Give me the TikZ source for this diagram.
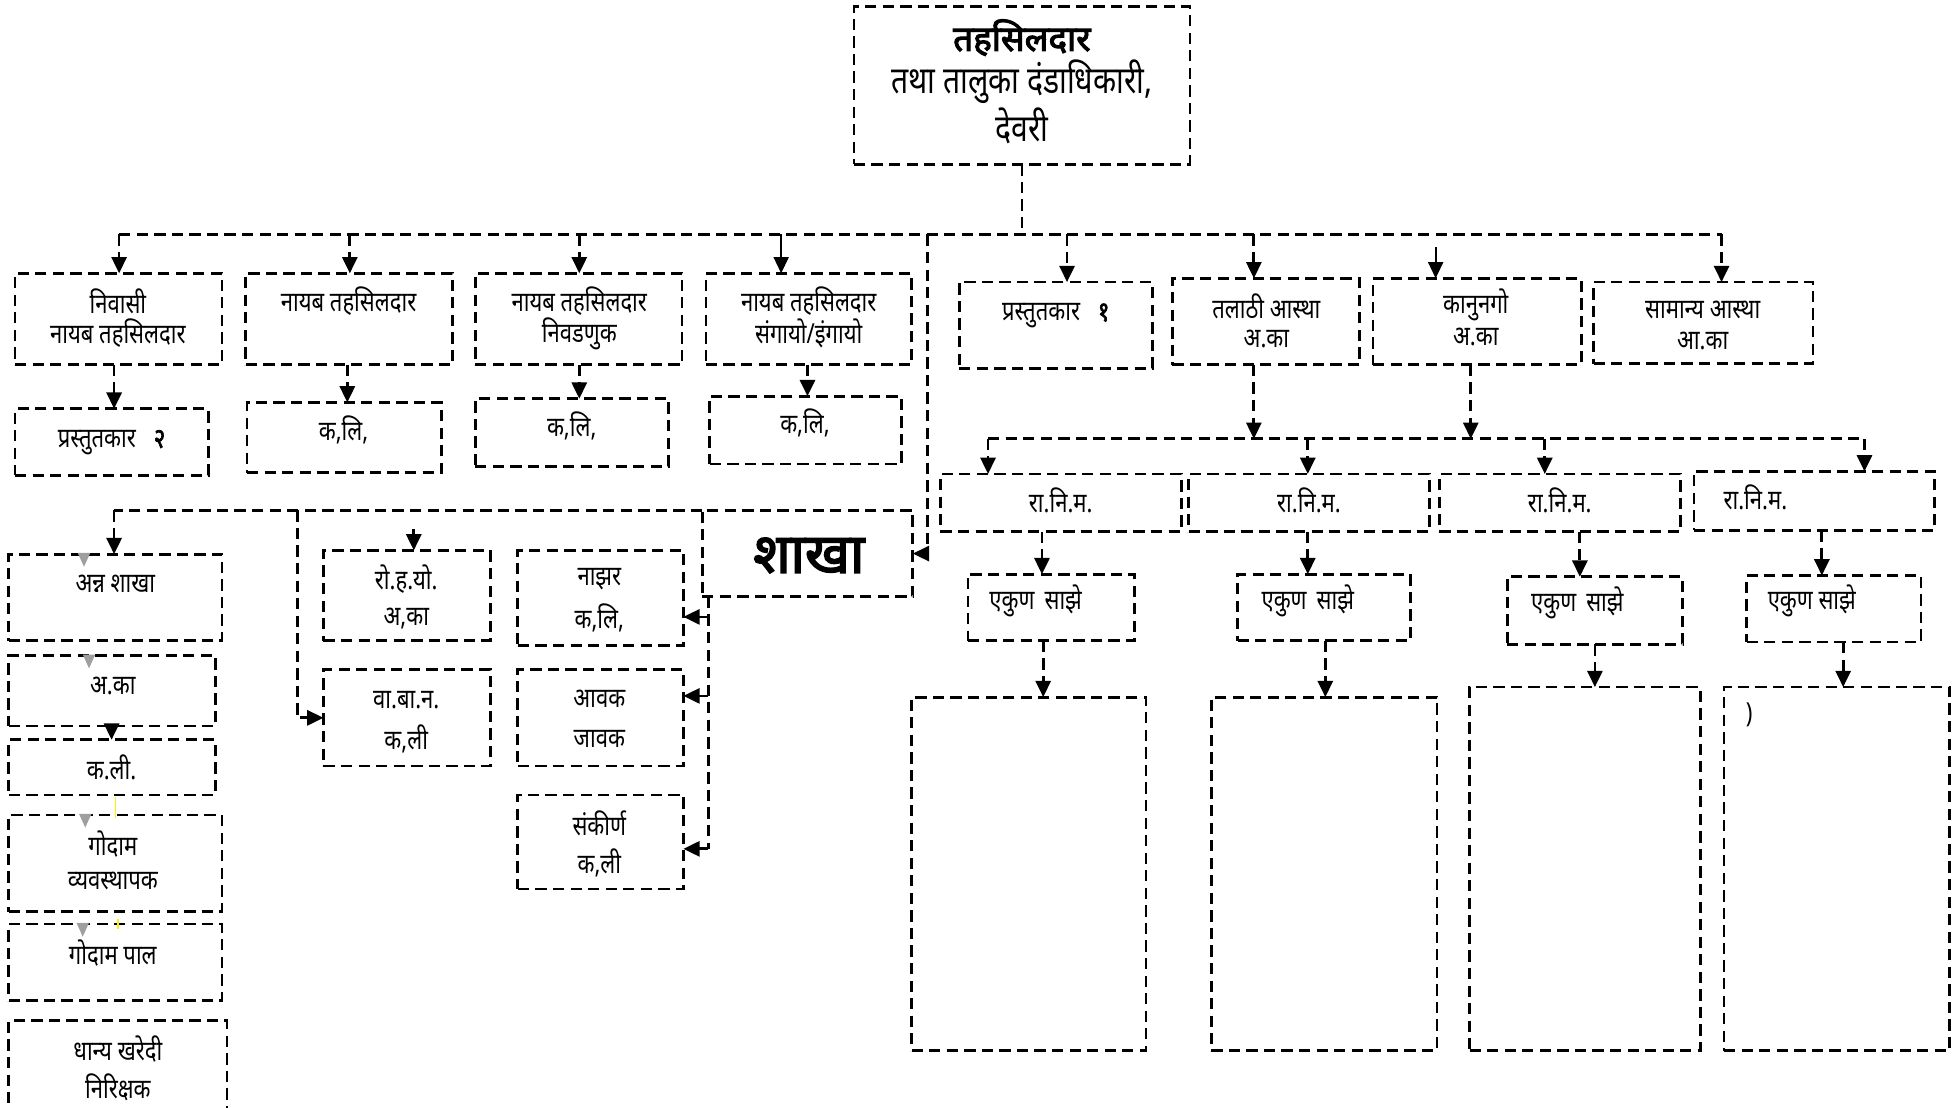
\documentclass[tikz,border=0pt]{standalone}
\usepackage{fontspec}
\setmainfont{Noto Sans}[Script=Devanagari,FakeStretch=0.8,BoldFont={Noto Sans},BoldFeatures={FakeBold=2.5}]
\newfontfamily\devw{Noto Sans}[Script=Devanagari,BoldFont={Noto Sans},BoldFeatures={FakeBold=3}]
\usetikzlibrary{arrows.meta}
\newcommand\bx[5]{\node[box,minimum width=#4pt-#2pt,minimum height=#5pt-#3pt] (#1) at ({(#2+#4)/2},{(#3+#5)/2}) {};}
\begin{document}
\begin{tikzpicture}[x=1pt,y=-1pt,
  dline/.style={line width=2.2pt,dash pattern=on 9pt off 5pt},
  box/.style={draw,dline,inner sep=0pt,outer sep=0pt},
  arr/.style={dline,-{Triangle[width=12pt,length=13pt]}},
  sarr/.style={line width=1.6pt,-{Triangle[width=12pt,length=13pt]}},
  txt/.style={font=\fontsize{22}{26}\selectfont,inner sep=0pt},
  big/.style={font=\fontsize{30}{34}\selectfont,inner sep=0pt},
  gtri/.style={fill=gray!75},
  ytick/.style={draw=yellow,line width=1.2pt}]
\useasboundingbox (0,0) rectangle (1560,883);
% ---------- boxes ----------
\bx{top}{681}{5}{949}{131}
\bx{b1}{12}{218}{177}{291}
\bx{b2}{196}{218}{361}{291}
\bx{b3}{379}{218}{544}{291}
\bx{b4}{563}{218}{727}{291}
\bx{b5}{765}{225}{919}{294}
\bx{b6}{935}{222}{1084}{291}
\bx{b7}{1095}{222}{1261}{291}
\bx{b8}{1271}{225}{1446}{290}
\bx{p2}{12}{326}{166}{379}
\bx{k1}{197}{321}{352}{377}
\bx{k2}{379}{318}{533}{372}
\bx{k3}{566}{316}{719}{370}
\bx{r1}{750}{378}{942}{424}
\bx{r2}{948}{378}{1140}{424}
\bx{r3}{1148}{378}{1340}{424}
\bx{r4}{1351}{376}{1543}{423}
\bx{e1}{772}{458}{905}{511}
\bx{e2}{987}{458}{1125}{511}
\bx{e3}{1202}{460}{1342}{514}
\bx{e4}{1393}{459}{1532}{512}
\bx{g1}{727}{556}{914}{838}
\bx{g2}{966}{556}{1146}{838}
\bx{g3}{1172}{548}{1356}{838}
\bx{g4}{1375}{548}{1555}{838}
\bx{shakha}{560}{407}{728}{476}
\bx{anna}{7}{442}{177}{511}
\bx{aka}{7}{523}{172}{579}
\bx{kali}{7}{590}{172}{634}
\bx{godam}{7}{650}{177}{727}
\bx{gpal}{7}{737}{177}{798}
\bx{dhanya}{7}{814}{181}{885}
\bx{roh}{258}{439}{391}{511}
\bx{vb}{258}{534}{391}{611}
\bx{nazar}{413}{439}{545}{515}
\bx{aavak}{413}{534}{545}{611}
\bx{sank}{413}{634}{545}{709}
% ---------- texts ----------
\node[inner sep=0pt,font=\devw\fontsize{28}{30}\bfseries] (t0a) at (815,30) {तहसिलदार};
\node[big] (t0b) at (815,65) {तथा तालुका दंडाधिकारी,};
\node[big] (t0c) at (815,100) {देवरी};
\node[txt] (t1a) at (94,240) {निवासी};
\node[txt] (t1b) at (94,266) {नायब तहसिलदार};
\node[txt] (t2a) at (278,240) {नायब तहसिलदार};
\node[txt] (t3a) at (462,240) {नायब तहसिलदार};
\node[txt] (t3b) at (462,266) {निवडणुक};
\node[txt] (t4a) at (645,240) {नायब तहसिलदार};
\node[txt] (t4b) at (645,266) {संगायो/इंगायो};
\node[txt] (t5a) at (842,252) {प्रस्तुतकार\hspace{14pt}\textbf{१}};
\node[txt] (t6a) at (1010,244) {तलाठी आस्था};
\node[txt] (t6b) at (1010,270) {अ.का};
\node[txt] (t7a) at (1177,243) {कानुनगो};
\node[txt] (t7b) at (1177,269) {अ.का};
\node[txt] (t8a) at (1358,247) {सामान्य आस्था};
\node[txt] (t8b) at (1358,272) {आ.का};
\node[txt] (tp2) at (89,353) {प्रस्तुतकार\hspace{14pt}\textbf{२}};
\node[txt] (tk1) at (274,343) {क,लि,};
\node[txt] (tk2) at (456,340) {क,लि,};
\node[txt] (tk3) at (642,337) {क,लि,};
\node[txt] (tr1) at (846,399) {रा.नि.म.};
\node[txt] (tr2) at (1044,399) {रा.नि.म.};
\node[txt] (tr3) at (1244,399) {रा.नि.म.};
\node[txt] (tr4) at (1400,397) {रा.नि.म.};
\node[txt] (te1) at (826,479) {एकुण\hspace{8pt}साझे};
\node[txt] (te2) at (1043,479) {एकुण\hspace{8pt}साझे};
\node[txt] (te3) at (1258,481) {एकुण\hspace{8pt}साझे};
\node[txt] (te4) at (1445,479) {एकुण साझे};
\node[txt] (tg4) at (1395,570) {)};
\node[inner sep=0pt,font=\devw\fontsize{44}{48}\bfseries] (tsh) at (645,443) {शाखा};
\node[txt] (tan) at (92,466) {अन्न शाखा};
\node[txt] (tak) at (90,547) {अ.का};
\node[txt] (tkl) at (89,612) {क.ली.};
\node[txt] (tgda) at (90,673) {गोदाम};
\node[txt] (tgdb) at (90,703) {व्यवस्थापक};
\node[txt] (tgp) at (90,760) {गोदाम पाल};
\node[txt] (tdha) at (94,837) {धान्य खरेदी};
\node[txt] (tdhb) at (94,867) {निरिक्षक};
\node[txt] (troa) at (324,462) {रो.ह.यो.};
\node[txt] (trob) at (324,493) {अ,का};
\node[txt] (tvba) at (324,558) {वा.बा.न.};
\node[txt] (tvbb) at (324,589) {क,ली};
\node[txt] (tnza) at (478,462) {नाझर};
\node[txt] (tnzb) at (478,493) {क,लि,};
\node[txt] (tava) at (478,557) {आवक};
\node[txt] (tavb) at (478,589) {जावक};
\node[txt] (tska) at (478,657) {संकीर्ण};
\node[txt] (tskb) at (478,688) {क,ली};
% ---------- coordinates ----------
\coordinate (j1) at (95,187);
\coordinate (j2) at (279,187);
\coordinate (j3) at (462,187);
\coordinate (j4) at (623,187);
\coordinate (j5) at (740,187);
\coordinate (j6) at (851,187);
\coordinate (j7) at (1000,187);
\coordinate (j8) at (1145,197);
\coordinate (j9) at (1373,187);
\coordinate (x91) at (91,0);
\coordinate (x277) at (277,0);
\coordinate (x462) at (462,0);
\coordinate (x644) at (644,0);
\coordinate (x1000) at (1000,0);
\coordinate (x1173) at (1173,0);
\coordinate (m1) at (788,350);
\coordinate (m2) at (1043,350);
\coordinate (m3) at (1232,350);
\coordinate (m4) at (1487,350);
\coordinate (x831) at (831,0);
\coordinate (x1043) at (1043,0);
\coordinate (x1260) at (1260,0);
\coordinate (x1453) at (1453,0);
\coordinate (x832) at (832,0);
\coordinate (x1057) at (1057,0);
\coordinate (x1272) at (1272,0);
\coordinate (x1470) at (1470,0);
\coordinate (l1) at (91,407);
\coordinate (l2) at (237,407);
\coordinate (l3) at (330,422);
\coordinate (sv) at (565,476);
\coordinate (s1) at (565,492);
\coordinate (s2) at (565,555);
\coordinate (s3) at (565,677);
\coordinate (x89) at (89,0);
% ---------- connectors ----------
\draw[dline] (top.south) -- (top.south |- j1);
\draw[dline] (j1) -- (j9);
\draw[arr] (j1) -- (j1 |- b1.north);
\draw[arr] (j2) -- (j2 |- b2.north);
\draw[arr] (j3) -- (j3 |- b3.north);
\draw[sarr] (j4) -- (j4 |- b4.north);
\draw[arr] (j5) |- (shakha.east);
\draw[arr] (j6) -- (j6 |- b5.north);
\draw[arr] (j7) -- (j7 |- b6.north);
\draw[sarr] (j8) -- (j8 |- b7.north);
\draw[arr] (j9) -- (j9 |- b8.north);
\draw[arr] (b1.south -| x91) -- (p2.north -| x91);
\draw[arr] (b2.south -| x277) -- (k1.north -| x277);
\draw[arr] (b3.south -| x462) -- (k2.north -| x462);
\draw[arr] (b4.south -| x644) -- (k3.north -| x644);
\draw[arr] (b6.south -| x1000) -- (m1 -| x1000);
\draw[arr] (b7.south -| x1173) -- (m1 -| x1173);
\draw[dline] (m1) -- (m4);
\draw[arr] (m1) -- (m1 |- r1.north);
\draw[arr] (m2) -- (m2 |- r2.north);
\draw[arr] (m3) -- (m3 |- r3.north);
\draw[arr] (m4) -- (m4 |- r4.north);
\draw[arr] (r1.south -| x831) -- (e1.north -| x831);
\draw[arr] (r2.south -| x1043) -- (e2.north -| x1043);
\draw[arr] (r3.south -| x1260) -- (e3.north -| x1260);
\draw[arr] (r4.south -| x1453) -- (e4.north -| x1453);
\draw[arr] (e1.south -| x832) -- (g1.north -| x832);
\draw[arr] (e2.south -| x1057) -- (g2.north -| x1057);
\draw[arr] (e3.south -| x1272) -- (g3.north -| x1272);
\draw[arr] (e4.south -| x1470) -- (g4.north -| x1470);
\draw[dline] (shakha.north west) -- (l1);
\draw[arr] (l1) -- (l1 |- anna.north);
\draw[arr] (l2) |- (vb.west);
\draw[arr] (l3) -- (l3 |- roh.north);
\draw[dline] (sv) -- (s3);
\draw[arr] (s1) -- (s1 -| nazar.east);
\draw[arr] (s2) -- (s2 -| aavak.east);
\draw[arr] (s3) -- (s3 -| sank.east);
\draw[arr] (aka.south -| x89) -- (kali.north -| x89);
% ---------- small marks ----------
\fill[gtri] (62,441) -- (72,441) -- (67,452) -- cycle;
\fill[gtri] (66,522) -- (76,522) -- (71,533) -- cycle;
\fill[gtri] (63,649) -- (73,649) -- (68,660) -- cycle;
\fill[gtri] (61,736) -- (71,736) -- (66,747) -- cycle;
\draw[ytick] (92,636) -- (92,652);
\draw[ytick] (94,733) -- (94,741);
\end{tikzpicture}
\end{document}
